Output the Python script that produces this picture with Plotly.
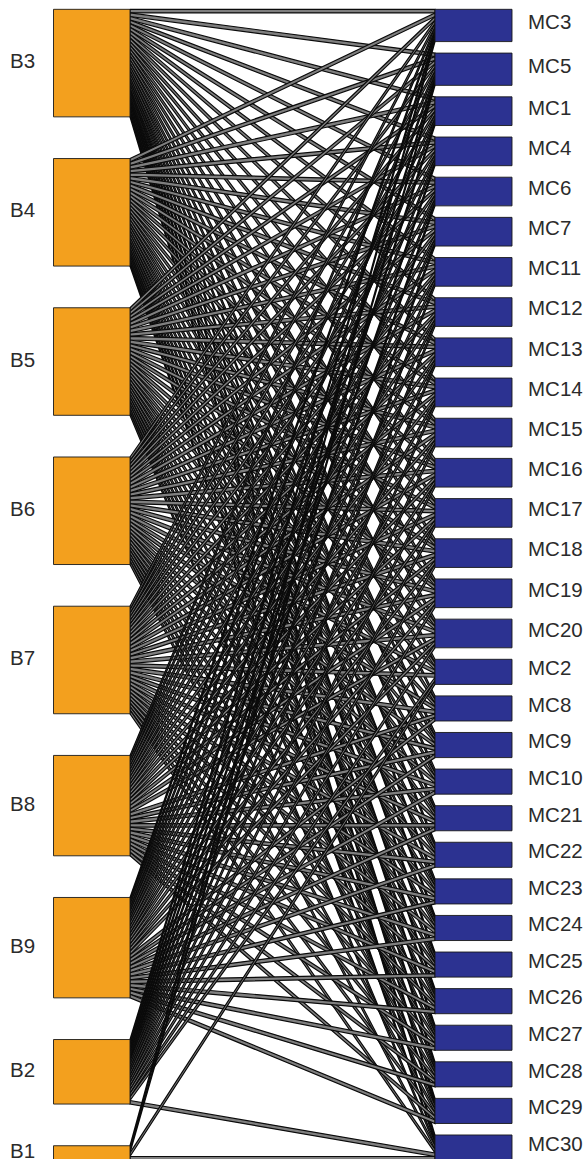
import plotly.graph_objects as go

# Lower level (left column) and higher level (right column), in drawing order
B_NODES = ["B3", "B4", "B5", "B6", "B7", "B8", "B9", "B2", "B1"]
MC_NODES = ["MC3", "MC5", "MC1", "MC4", "MC6", "MC7", "MC11", "MC12", "MC13",
            "MC14", "MC15", "MC16", "MC17", "MC18", "MC19", "MC20", "MC2", "MC8",
            "MC9", "MC10", "MC21", "MC22", "MC23", "MC24", "MC25", "MC26", "MC27",
            "MC28", "MC29", "MC30"]

# Interaction matrix: rows follow B_NODES, columns follow MC_NODES
LINKS = [
    [1, 1, 1, 1, 1, 1, 1, 1, 1, 1, 1, 1, 1, 1, 1, 1, 1, 1, 1, 1, 1, 1, 1, 1, 1, 1, 1, 1, 1, 1],  # B3
    [1, 1, 1, 1, 1, 1, 1, 1, 1, 1, 1, 1, 1, 1, 1, 1, 1, 1, 1, 1, 1, 1, 1, 1, 1, 1, 1, 1, 1, 1],  # B4
    [1, 1, 1, 1, 1, 1, 1, 1, 1, 1, 1, 1, 1, 1, 1, 1, 1, 1, 1, 1, 1, 1, 1, 1, 1, 1, 1, 1, 1, 1],  # B5
    [1, 1, 1, 1, 1, 1, 1, 1, 1, 1, 1, 1, 1, 1, 1, 1, 1, 1, 1, 1, 1, 1, 1, 1, 1, 1, 1, 1, 1, 1],  # B6
    [1, 1, 1, 1, 1, 1, 1, 1, 1, 1, 1, 1, 1, 1, 1, 1, 1, 1, 1, 1, 1, 1, 1, 1, 1, 1, 1, 1, 1, 1],  # B7
    [1, 1, 1, 1, 1, 1, 1, 1, 1, 1, 1, 1, 1, 1, 1, 1, 0, 1, 1, 1, 1, 1, 1, 1, 1, 1, 1, 1, 1, 0],  # B8
    [1, 1, 1, 1, 1, 1, 1, 1, 1, 1, 1, 1, 1, 1, 1, 1, 0, 1, 1, 1, 1, 1, 1, 1, 1, 1, 1, 1, 1, 0],  # B9
    [1, 1, 1, 1, 1, 1, 1, 1, 1, 1, 1, 1, 1, 1, 1, 1, 1, 0, 0, 0, 0, 0, 0, 0, 0, 0, 0, 0, 0, 1],  # B2
    [1, 1, 0, 0, 0, 0, 0, 0, 0, 0, 0, 0, 0, 0, 0, 0, 1, 0, 0, 0, 0, 0, 0, 0, 0, 0, 0, 0, 0, 1],  # B1
]

# ---- styling / geometry --------------------------------------------------
W, H = 586, 1159
LEFT_X = (53.5, 130.0)        # lower boxes, x extent (px)
RIGHT_X = (435.0, 512.0)      # higher boxes, x extent (px)
SPAN = 321.0                  # total column length in interaction units
Y_RANGE = [320.7, -2.6]       # reversed: first level at the top
ORANGE, BLUE = "#F3A01E", "#2C3291"
LINK_FILL, LINK_EDGE = "#7f7f7f", "#0a0a0a"
FONT = dict(family="Liberation Sans, Arial, sans-serif", size=20.5, color="#2b2b2b")


def stack(sizes, span):
    """Top offsets of boxes stacked along one column with equal gaps."""
    gap = (span - sum(sizes)) / (len(sizes) - 1)
    tops, y = [], 0.0
    for s in sizes:
        tops.append(y)
        y += s + gap
    return tops


low_tot = [sum(row) for row in LINKS]
high_tot = [sum(LINKS[i][j] for i in range(len(B_NODES))) for j in range(len(MC_NODES))]
low_top = stack(low_tot, SPAN)
high_top = stack(high_tot, SPAN)

fig = go.Figure()

# interaction bands
low_off = [0.0] * len(B_NODES)
high_off = [0.0] * len(MC_NODES)
for i, row in enumerate(LINKS):
    for j, w in enumerate(row):
        if not w:
            continue
        yl0 = low_top[i] + low_off[i]
        yr0 = high_top[j] + high_off[j]
        low_off[i] += w
        high_off[j] += w
        xs = [LEFT_X[1], RIGHT_X[0], RIGHT_X[0], LEFT_X[1], LEFT_X[1]]
        ys = [yl0, yr0, yr0 + w, yl0 + w, yl0]
        fig.add_trace(go.Scatter(
            x=xs, y=ys, mode="lines", fill="toself", fillcolor=LINK_FILL,
            line=dict(color=LINK_EDGE, width=1.2), hoverinfo="skip", showlegend=False))


def box(x0, x1, y0, y1, color):
    fig.add_trace(go.Scatter(
        x=[x0, x1, x1, x0, x0], y=[y0, y0, y1, y1, y0], mode="lines",
        fill="toself", fillcolor=color, line=dict(color="#1a1a1a", width=0.9),
        hoverinfo="skip", showlegend=False))


for i, name in enumerate(B_NODES):
    box(LEFT_X[0], LEFT_X[1], low_top[i], low_top[i] + low_tot[i], ORANGE)
for j, name in enumerate(MC_NODES):
    box(RIGHT_X[0], RIGHT_X[1], high_top[j], high_top[j] + high_tot[j], BLUE)

# node labels
fig.add_trace(go.Scatter(
    x=[10] * len(B_NODES), y=[t + s / 2 for t, s in zip(low_top, low_tot)],
    mode="text", text=B_NODES, textposition="middle right", textfont=FONT,
    hoverinfo="skip", showlegend=False, cliponaxis=False))
fig.add_trace(go.Scatter(
    x=[528] * len(MC_NODES), y=[t + s / 2 - 0.5 for t, s in zip(high_top, high_tot)],
    mode="text", text=MC_NODES, textposition="middle right", textfont=FONT,
    hoverinfo="skip", showlegend=False, cliponaxis=False))

fig.update_layout(
    width=W, height=H, margin=dict(l=0, r=0, t=0, b=0),
    paper_bgcolor="white", plot_bgcolor="white",
    xaxis=dict(range=[0, W], visible=False, fixedrange=True),
    yaxis=dict(range=Y_RANGE, visible=False, fixedrange=True),
)
fig.write_html("out.html")
